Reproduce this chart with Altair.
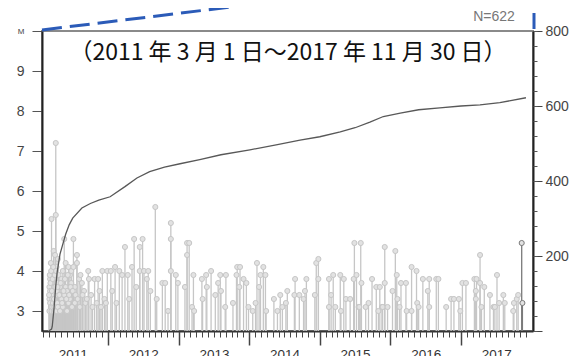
import altair as alt
import pandas as pd

# ---- events: decimal year and magnitude ----
ev_year = [
    2011.17, 2011.17, 2011.17, 2011.18, 2011.18, 2011.18, 2011.19, 2011.19, 2011.19, 2011.20, 2011.20, 2011.20,
    2011.21, 2011.21, 2011.21, 2011.22, 2011.22, 2011.22, 2011.23, 2011.23, 2011.23, 2011.24, 2011.24, 2011.24,
    2011.25, 2011.25, 2011.25, 2011.26, 2011.26, 2011.26, 2011.26, 2011.27, 2011.27, 2011.27, 2011.28, 2011.28,
    2011.29, 2011.29, 2011.30, 2011.30, 2011.32, 2011.32, 2011.34, 2011.34, 2011.36, 2011.36, 2011.38, 2011.38,
    2011.40, 2011.40, 2011.42, 2011.42, 2011.44, 2011.44, 2011.46, 2011.46, 2011.48, 2011.48, 2011.51, 2011.51,
    2011.53, 2011.53, 2011.56, 2011.56, 2011.59, 2011.61, 2011.63, 2011.66, 2011.68, 2011.72, 2011.73, 2011.76,
    2011.81, 2011.86, 2011.90, 2011.92, 2011.95, 2011.99,
    2011.165, 2011.175, 2011.185, 2011.195, 2011.205, 2011.215, 2011.225, 2011.235, 2011.245, 2011.255, 2011.265, 2011.275,
    2011.285, 2011.31, 2011.33, 2011.35, 2011.37, 2011.39, 2011.41, 2011.43, 2011.45, 2011.47, 2011.49, 2011.50,
    2011.54, 2011.57, 2011.60, 2011.64, 2011.70, 2011.78, 2011.84, 2011.88, 2011.97,
    2012.04, 2012.06, 2012.10, 2012.12, 2012.16, 2012.20, 2012.24, 2012.28, 2012.30, 2012.34, 2012.37, 2012.40,
    2012.45, 2012.45, 2012.49, 2012.51, 2012.55, 2012.57, 2012.60, 2012.67, 2012.69, 2012.77, 2012.81, 2012.85,
    2012.89, 2012.89, 2012.89, 2012.96, 2012.99,
    2013.09, 2013.12, 2013.12, 2013.15, 2013.19, 2013.21, 2013.22, 2013.33, 2013.34, 2013.39, 2013.40, 2013.46,
    2013.52, 2013.56, 2013.59, 2013.60, 2013.66, 2013.67, 2013.77, 2013.82, 2013.83, 2013.86, 2013.87, 2013.92,
    2013.96, 2013.99,
    2014.05, 2014.09, 2014.11, 2014.14, 2014.16, 2014.20, 2014.23, 2014.24, 2014.35, 2014.40, 2014.44, 2014.47,
    2014.52, 2014.54, 2014.64, 2014.65, 2014.71, 2014.77, 2014.79, 2014.81, 2014.93, 2014.95, 2014.98, 2014.98,
    2015.13, 2015.13, 2015.16, 2015.19, 2015.22, 2015.29, 2015.30, 2015.34, 2015.37, 2015.43, 2015.48, 2015.49,
    2015.52, 2015.55, 2015.56, 2015.58, 2015.59, 2015.65, 2015.69, 2015.74, 2015.80, 2015.83, 2015.85, 2015.88,
    2015.89, 2015.92, 2015.92, 2015.96,
    2016.03, 2016.07, 2016.09, 2016.10, 2016.13, 2016.15, 2016.22, 2016.23, 2016.30, 2016.30, 2016.37, 2016.38,
    2016.40, 2016.46, 2016.53, 2016.55, 2016.55, 2016.65, 2016.68, 2016.79, 2016.86, 2016.90, 2016.97, 2016.99,
    2017.02, 2017.07, 2017.19, 2017.21, 2017.21, 2017.22, 2017.27, 2017.27, 2017.29, 2017.33, 2017.41, 2017.46,
    2017.48, 2017.51, 2017.54, 2017.60, 2017.62, 2017.74, 2017.75, 2017.79, 2017.81, 2017.86, 2017.87,
]
ev_mag = [
    3.0, 3.3, 3.6, 3.5, 3.8, 3.2, 4.2, 3.1, 3.4, 5.3, 3.0, 3.7,
    3.9, 3.3, 3.1, 4.0, 3.5, 3.2, 3.4, 3.0, 4.5, 3.6, 3.8, 3.1,
    4.4, 3.3, 3.0, 7.2, 5.4, 3.5, 3.2, 4.1, 3.4, 3.0, 3.7, 3.2,
    4.3, 3.1, 3.9, 3.5, 3.6, 3.0, 3.8, 3.3, 4.0, 3.1, 4.8, 3.4,
    4.2, 3.6, 3.5, 3.0, 4.1, 3.2, 3.9, 3.3, 4.0, 3.7, 4.8, 4.1,
    3.2, 3.6, 4.4, 4.2, 3.8, 3.9, 3.7, 3.5, 3.2, 4.0, 3.8, 3.4,
    3.8, 3.8, 3.1, 4.0, 3.3, 4.0,
    3.4, 3.9, 3.7, 4.0, 3.5, 3.8, 4.1, 3.3, 3.9, 3.6, 4.0, 3.5,
    3.6, 3.4, 3.7, 3.2, 3.5, 3.8, 3.3, 3.9, 3.4, 3.6, 3.1, 3.5,
    3.4, 3.3, 3.1, 3.4, 3.3, 3.1, 3.2, 3.5, 3.2,
    4.0, 3.5, 4.1, 3.2, 4.0, 3.9, 4.6, 3.9, 3.3, 4.1, 4.8, 3.6,
    4.6, 4.0, 4.8, 4.0, 3.8, 4.0, 3.5, 5.6, 3.3, 3.7, 3.7, 3.0,
    5.2, 4.8, 4.0, 3.9, 3.7,
    3.6, 4.7, 4.4, 4.7, 3.1, 3.9, 3.0, 3.8, 3.3, 3.9, 3.6, 4.0,
    3.4, 3.7, 3.9, 3.5, 3.1, 3.9, 3.2, 3.9, 4.1, 3.6, 4.1, 3.8,
    3.7, 3.1,
    3.0, 3.2, 4.2, 3.6, 3.9, 4.1, 3.9, 3.0, 3.3, 3.0, 3.4, 3.1,
    3.2, 3.5, 3.4, 3.8, 3.4, 3.3, 3.5, 3.8, 3.4, 4.2, 3.8, 4.3,
    3.8, 3.1, 3.4, 3.9, 3.1, 3.9, 3.0, 3.8, 3.3, 3.3, 3.8, 4.7,
    3.9, 3.1, 3.1, 4.7, 3.7, 3.1, 3.2, 3.8, 3.6, 3.0, 3.6, 3.1,
    3.1, 4.6, 3.7, 3.1,
    3.5, 4.5, 3.9, 3.3, 3.1, 3.7, 3.7, 3.0, 4.1, 3.0, 4.0, 3.2,
    3.1, 3.8, 3.5, 3.8, 3.1, 3.8, 3.8, 3.1, 3.3, 3.3, 3.3, 3.0,
    3.7, 3.7, 3.8, 3.5, 3.3, 3.8, 4.4, 3.7, 3.1, 3.6, 3.4, 3.1,
    3.1, 3.9, 3.2, 3.4, 3.2, 3.0, 3.2, 3.3, 3.4, 4.7, 3.2,
]
recent_years = [2017.86, 2017.87]

# ---- cumulative number of events ----
cum_year = [2011.16, 2011.20, 2011.21, 2011.235, 2011.26, 2011.28, 2011.32, 2011.35, 2011.40, 2011.45,
            2011.50, 2011.63, 2011.75, 2011.87, 2012.03, 2012.24, 2012.41, 2012.59, 2012.80, 2013.02,
            2013.30, 2013.60, 2014.01, 2014.40, 2014.72, 2015.00, 2015.29, 2015.50, 2015.71, 2015.90,
            2016.14, 2016.40, 2016.70, 2017.00, 2017.27, 2017.55, 2017.92]
cum_count = [0, 5, 12, 60, 120, 157, 205, 225, 258, 283,
             301, 328, 340, 349, 358, 385, 408, 425, 437, 446,
             457, 470, 483, 497, 509, 518, 531, 542, 557, 572,
             581, 590, 595, 600, 603, 609, 622]

year_ticks = [2012, 2013, 2014, 2015, 2016, 2017]
year_label_pos = [2011.5, 2012.5, 2013.5, 2014.5, 2015.5, 2016.5, 2017.5]
month_ticks = [y + m / 12 for y in range(2011, 2018) for m in range(12)]
m_ticks = [3, 4, 5, 6, 7, 8, 9, 10]
count_ticks = [0, 200, 400, 600, 800]
count_minor = list(range(0, 801, 40))

title_text = "（2011 年 3 月 1 日～2017 年 11 月 30 日）"
n_text = "N=622"

df = pd.DataFrame({"year": ev_year, "M": ev_mag})
df["grp"] = ["new" if y in recent_years else "old" for y in df["year"]]
df["base"] = 2.5
cdf = pd.DataFrame({"year": cum_year, "count": cum_count})

xscale = alt.Scale(domain=[2011.065, 2018.02], nice=False, zero=False)
mscale = alt.Scale(domain=[2.5, 10], nice=False, zero=False)
cscale = alt.Scale(domain=[0, 800], nice=False, zero=False)

x_major = alt.Axis(orient="bottom", values=year_ticks, labels=False, tickSize=14, tickColor="#444",
                   tickWidth=1.5, domainColor="#333", domainWidth=2, grid=False, title=None)
left_axis = alt.Axis(orient="left", values=m_ticks, labelExpr="datum.value == 10 ? 'M' : datum.label",
                     labelFontSize={"condition": {"test": "datum.value == 10", "value": 8}, "value": 14},
                     labelColor="#444", tickSize=10, tickColor="#555", labelPadding=8,
                     domainColor="#222", domainWidth=2, grid=False, title=None)
stem_col = alt.Color("grp:N", scale=alt.Scale(domain=["old", "new"], range=["#c6c6c6", "#7a7a7a"]), legend=None)
stem_col2 = alt.Color("grp:N", scale=alt.Scale(domain=["old", "new"], range=["#b0b0b0", "#666666"]), legend=None)

stems = alt.Chart(df).mark_rule(strokeWidth=1.3).encode(
    x=alt.X("year:Q", scale=xscale, axis=x_major),
    y=alt.Y("M:Q", scale=mscale, axis=left_axis),
    y2="base:Q",
    color=stem_col,
)
points = alt.Chart(df).mark_point(shape="circle", filled=False, fill="#e2e2e2", fillOpacity=1,
                                  size=26, strokeWidth=1, opacity=1).encode(
    x=alt.X("year:Q", scale=xscale, axis=x_major),
    y=alt.Y("M:Q", scale=mscale, axis=left_axis),
    color=stem_col2,
)
mag = alt.layer(stems, points)

right_axis = alt.Axis(orient="right", values=count_ticks, labelExpr="datum.value == 0 ? '' : datum.label",
                      tickSize=9, labelPadding=3, labelFontSize=14, labelColor="#444",
                      domainColor="#222", domainWidth=2, tickColor="#444", grid=False, title=None)
cum = alt.Chart(cdf).mark_line(color="#585858", strokeWidth=1.3).encode(
    x=alt.X("year:Q", scale=xscale, axis=None),
    y=alt.Y("count:Q", scale=cscale, axis=right_axis),
)
rminor = alt.Chart(cdf).mark_point(opacity=0).encode(
    y=alt.Y("count:Q", scale=cscale, axis=alt.Axis(orient="right", values=count_minor, tickSize=4,
                                                   labels=False, domain=False, tickColor="#555",
                                                   grid=False, title=None)),
)
xminor = alt.Chart(df).mark_point(opacity=0).encode(
    x=alt.X("year:Q", scale=xscale, axis=alt.Axis(orient="bottom", values=month_ticks, tickSize=6,
                                                  labels=False, domain=False, tickColor="#444",
                                                  grid=False, title=None)),
)
xlabels = alt.Chart(df).mark_point(opacity=0).encode(
    x=alt.X("year:Q", scale=xscale, axis=alt.Axis(orient="bottom", values=year_label_pos, tickSize=0,
                                                  domain=False, labelExpr="floor(datum.value)",
                                                  labelFontSize=13.5, labelColor="#333", labelPadding=16,
                                                  grid=False, title=None)),
)

one = pd.DataFrame({"t": [title_text], "n": [n_text]})
title = alt.Chart(one).mark_text(font="Noto Sans CJK JP", fontSize=23, color="#111", baseline="middle").encode(
    x=alt.value(246), y=alt.value(22), text="t:N")
ntext = alt.Chart(one).mark_text(font="Liberation Sans", fontSize=14, color="#777", baseline="middle").encode(
    x=alt.value(452), y=alt.value(-14), text="n:N")
blue_diag = alt.Chart(one).mark_rule(color="#2b5bb8", strokeWidth=3, strokeDash=[20, 8]).encode(
    x=alt.value(0), y=alt.value(-1), x2=alt.value(200), y2=alt.value(-25.4))
blue_vert = alt.Chart(one).mark_rule(color="#2b5bb8", strokeWidth=3, strokeDash=[16, 10]).encode(
    x=alt.value(492), y=alt.value(-2), x2=alt.value(492), y2=alt.value(-24))

chart = alt.layer(mag, cum, rminor, xminor, xlabels, title, ntext, blue_diag, blue_vert).resolve_scale(
    y="independent"
).resolve_axis(x="independent", y="independent").properties(
    width=491, height=300,
    autosize=alt.AutoSizeParams(type="none"),
    padding={"left": 34, "top": 23, "right": 47, "bottom": 25},
).configure_view(stroke="#8a8a8a", strokeWidth=2).configure_axis(
    labelFont="Liberation Sans"
)

chart.save("out.html", embed_options={"renderer": "svg", "actions": False})
